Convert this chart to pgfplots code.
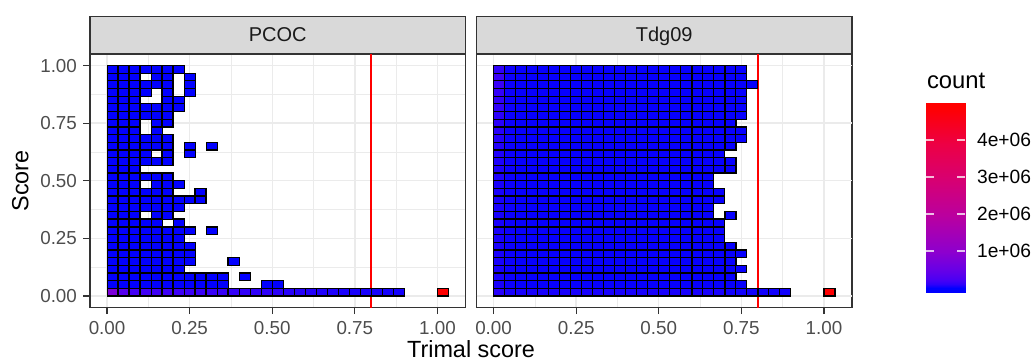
\documentclass[border=0pt]{standalone}
\usepackage{fontspec}
\setmainfont{Liberation Sans}
\usepackage{pgfplots}
\usepackage{pgfplotstable}
\pgfplotsset{compat=1.18}
\definecolor{gray20}{HTML}{333333}
\definecolor{gray30}{HTML}{4D4D4D}
\definecolor{gray92}{HTML}{EBEBEB}
\definecolor{gray85}{HTML}{D9D9D9}
\definecolor{gray10}{HTML}{1A1A1A}
\pgfdeclareplotmark{cell}{%
  \pgfpathrectanglecorners{\pgfpoint{-2.753pt}{-1.921pt}}{\pgfpoint{2.753pt}{1.921pt}}%
  \pgfusepathqfillstroke}
\pgfplotsset{
  colormap={ggbr}{rgb255(0pt)=(0,0,255) rgb255(2pt)=(47,0,250) rgb255(5pt)=(75,0,243) rgb255(10pt)=(104,0,230) rgb255(20pt)=(141,0,206) rgb255(40pt)=(186,0,159) rgb255(60pt)=(215,0,114) rgb255(80pt)=(237,0,68) rgb255(100pt)=(255,0,0)},
  panel/.style={
    scale only axis, width=187.75pt, height=126.75pt, anchor=north west,
    xmin=-0.05167, xmax=1.085, ymin=-0.05, ymax=1.05,
    xtick={0,0.25,0.5,0.75,1}, xticklabels={0.00,0.25,0.50,0.75,1.00},
    minor xtick={0.125,0.375,0.625,0.875}, minor ytick={0.125,0.375,0.625,0.875},
    grid=both,
    major grid style={gray92, line width=0.7pt},
    minor grid style={gray92, line width=0.35pt},
    tick align=outside, tick pos=left,
    major tick length=3.25pt, minor tick length=0pt,
    tick style={gray20, line width=0.6pt},
    axis line style={gray20, line width=0.75pt},
    tick label style={font=\fontsize{9.4}{11}\selectfont, text=gray30, inner sep=0pt},
    xticklabel style={yshift=-3.6pt},
    yticklabel style={xshift=-3.1pt},
    colormap name=ggbr, point meta min=0, point meta max=4880,
    every axis title/.style={at={(0.5,1)}, anchor=south, fill=gray85, draw=gray20, line width=0.75pt, minimum width=187.75pt, minimum height=18.5pt, inner sep=0pt, text=gray10, font=\fontsize{10}{12}\selectfont, text height=7.2pt, text depth=0pt},
  },
  cells/.style={scatter, only marks, mark=cell, point meta=explicit,
    scatter/use mapped color={draw=black, fill=mapped color, line width=0.6pt}},
}

\pgfplotstableread{
x y c
0.017 0.983 5
0.05 0.983 5
0.083 0.983 5
0.117 0.983 5
0.15 0.983 5
0.183 0.983 5
0.217 0.983 5
0.017 0.95 5
0.05 0.95 5
0.083 0.95 5
0.15 0.95 5
0.183 0.95 5
0.25 0.95 5
0.017 0.917 5
0.05 0.917 5
0.083 0.917 5
0.117 0.917 5
0.15 0.917 5
0.183 0.917 5
0.25 0.917 5
0.017 0.883 5
0.05 0.883 5
0.083 0.883 5
0.117 0.883 5
0.183 0.883 5
0.25 0.883 5
0.017 0.85 5
0.05 0.85 5
0.083 0.85 5
0.183 0.85 5
0.217 0.85 5
0.017 0.817 5
0.05 0.817 5
0.083 0.817 5
0.117 0.817 5
0.15 0.817 5
0.183 0.817 5
0.217 0.817 5
0.017 0.783 5
0.05 0.783 5
0.083 0.783 5
0.117 0.783 5
0.15 0.783 5
0.183 0.783 5
0.017 0.75 5
0.05 0.75 5
0.083 0.75 5
0.15 0.75 5
0.183 0.75 5
0.017 0.717 5
0.05 0.717 5
0.083 0.717 5
0.15 0.717 5
0.017 0.683 5
0.05 0.683 5
0.083 0.683 5
0.117 0.683 5
0.15 0.683 5
0.183 0.683 5
0.017 0.65 5
0.05 0.65 5
0.083 0.65 5
0.117 0.65 5
0.15 0.65 5
0.183 0.65 5
0.25 0.65 5
0.317 0.65 5
0.017 0.617 5
0.05 0.617 5
0.083 0.617 5
0.117 0.617 5
0.183 0.617 5
0.25 0.617 5
0.017 0.583 5
0.05 0.583 5
0.083 0.583 5
0.117 0.583 5
0.15 0.583 5
0.183 0.583 5
0.017 0.55 5
0.05 0.55 5
0.083 0.55 5
0.017 0.517 5
0.05 0.517 5
0.083 0.517 5
0.117 0.517 5
0.15 0.517 5
0.183 0.517 5
0.017 0.483 5
0.05 0.483 5
0.083 0.483 5
0.15 0.483 5
0.183 0.483 5
0.217 0.483 5
0.017 0.45 5
0.05 0.45 5
0.083 0.45 5
0.117 0.45 5
0.15 0.45 5
0.183 0.45 5
0.283 0.45 5
0.017 0.417 5
0.05 0.417 5
0.083 0.417 5
0.117 0.417 5
0.15 0.417 5
0.183 0.417 5
0.217 0.417 5
0.25 0.417 5
0.283 0.417 5
0.017 0.383 5
0.05 0.383 5
0.083 0.383 5
0.117 0.383 5
0.15 0.383 5
0.183 0.383 5
0.217 0.383 5
0.017 0.35 5
0.05 0.35 5
0.083 0.35 5
0.15 0.35 5
0.183 0.35 5
0.017 0.317 5
0.05 0.317 5
0.083 0.317 5
0.117 0.317 5
0.15 0.317 5
0.217 0.317 5
0.017 0.283 5
0.05 0.283 5
0.083 0.283 5
0.117 0.283 5
0.15 0.283 5
0.183 0.283 5
0.217 0.283 5
0.25 0.283 5
0.317 0.283 5
0.017 0.25 5
0.05 0.25 5
0.083 0.25 5
0.117 0.25 5
0.15 0.25 5
0.183 0.25 5
0.217 0.25 5
0.017 0.217 5
0.05 0.217 5
0.083 0.217 5
0.117 0.217 5
0.15 0.217 5
0.183 0.217 5
0.217 0.217 5
0.25 0.217 5
0.017 0.183 5
0.05 0.183 5
0.083 0.183 5
0.117 0.183 5
0.15 0.183 5
0.183 0.183 5
0.217 0.183 5
0.25 0.183 5
0.017 0.15 5
0.05 0.15 5
0.083 0.15 5
0.117 0.15 5
0.15 0.15 5
0.183 0.15 5
0.217 0.15 5
0.25 0.15 5
0.383 0.15 5
0.017 0.117 5
0.05 0.117 5
0.083 0.117 5
0.117 0.117 5
0.15 0.117 5
0.183 0.117 5
0.217 0.117 5
0.017 0.083 5
0.05 0.083 5
0.083 0.083 5
0.117 0.083 5
0.15 0.083 5
0.183 0.083 5
0.217 0.083 5
0.25 0.083 5
0.283 0.083 5
0.317 0.083 5
0.35 0.083 5
0.417 0.083 5
0.017 0.05 5
0.05 0.05 5
0.083 0.05 5
0.117 0.05 5
0.15 0.05 5
0.183 0.05 5
0.217 0.05 5
0.25 0.05 5
0.283 0.05 5
0.317 0.05 5
0.35 0.05 5
0.483 0.05 5
0.517 0.05 5
0.017 0.017 750
0.05 0.017 340
0.083 0.017 200
0.117 0.017 190
0.15 0.017 180
0.183 0.017 175
0.217 0.017 170
0.25 0.017 160
0.283 0.017 150
0.317 0.017 145
0.35 0.017 140
0.383 0.017 120
0.417 0.017 110
0.45 0.017 100
0.483 0.017 95
0.517 0.017 90
0.55 0.017 80
0.583 0.017 75
0.617 0.017 70
0.65 0.017 65
0.683 0.017 60
0.717 0.017 55
0.75 0.017 50
0.783 0.017 48
0.817 0.017 45
0.85 0.017 42
0.883 0.017 40
1.017 0.017 4880
}\pcoc

\pgfplotstableread{
x y c
0.017 0.983 100
0.05 0.983 25
0.083 0.983 15
0.117 0.983 15
0.15 0.983 15
0.183 0.983 15
0.217 0.983 15
0.25 0.983 15
0.283 0.983 15
0.317 0.983 15
0.35 0.983 15
0.383 0.983 15
0.417 0.983 15
0.45 0.983 15
0.483 0.983 15
0.517 0.983 15
0.55 0.983 15
0.583 0.983 15
0.617 0.983 15
0.65 0.983 15
0.683 0.983 15
0.717 0.983 15
0.75 0.983 15
0.017 0.95 150
0.05 0.95 25
0.083 0.95 15
0.117 0.95 15
0.15 0.95 15
0.183 0.95 15
0.217 0.95 15
0.25 0.95 15
0.283 0.95 15
0.317 0.95 15
0.35 0.95 15
0.383 0.95 15
0.417 0.95 15
0.45 0.95 15
0.483 0.95 15
0.517 0.95 15
0.55 0.95 15
0.583 0.95 15
0.617 0.95 15
0.65 0.95 15
0.683 0.95 15
0.717 0.95 15
0.75 0.95 15
0.017 0.917 150
0.05 0.917 25
0.083 0.917 15
0.117 0.917 15
0.15 0.917 15
0.183 0.917 15
0.217 0.917 15
0.25 0.917 15
0.283 0.917 15
0.317 0.917 15
0.35 0.917 15
0.383 0.917 15
0.417 0.917 15
0.45 0.917 15
0.483 0.917 15
0.517 0.917 15
0.55 0.917 15
0.583 0.917 15
0.617 0.917 15
0.65 0.917 15
0.683 0.917 15
0.717 0.917 15
0.75 0.917 15
0.783 0.917 15
0.017 0.883 120
0.05 0.883 25
0.083 0.883 15
0.117 0.883 15
0.15 0.883 15
0.183 0.883 15
0.217 0.883 15
0.25 0.883 15
0.283 0.883 15
0.317 0.883 15
0.35 0.883 15
0.383 0.883 15
0.417 0.883 15
0.45 0.883 15
0.483 0.883 15
0.517 0.883 15
0.55 0.883 15
0.583 0.883 15
0.617 0.883 15
0.65 0.883 15
0.683 0.883 15
0.717 0.883 15
0.75 0.883 15
0.017 0.85 110
0.05 0.85 25
0.083 0.85 15
0.117 0.85 15
0.15 0.85 15
0.183 0.85 15
0.217 0.85 15
0.25 0.85 15
0.283 0.85 15
0.317 0.85 15
0.35 0.85 15
0.383 0.85 15
0.417 0.85 15
0.45 0.85 15
0.483 0.85 15
0.517 0.85 15
0.55 0.85 15
0.583 0.85 15
0.617 0.85 15
0.65 0.85 15
0.683 0.85 15
0.717 0.85 15
0.75 0.85 15
0.017 0.817 100
0.05 0.817 25
0.083 0.817 15
0.117 0.817 15
0.15 0.817 15
0.183 0.817 15
0.217 0.817 15
0.25 0.817 15
0.283 0.817 15
0.317 0.817 15
0.35 0.817 15
0.383 0.817 15
0.417 0.817 15
0.45 0.817 15
0.483 0.817 15
0.517 0.817 15
0.55 0.817 15
0.583 0.817 15
0.617 0.817 15
0.65 0.817 15
0.683 0.817 15
0.717 0.817 15
0.75 0.817 15
0.017 0.783 90
0.05 0.783 25
0.083 0.783 15
0.117 0.783 15
0.15 0.783 15
0.183 0.783 15
0.217 0.783 15
0.25 0.783 15
0.283 0.783 15
0.317 0.783 15
0.35 0.783 15
0.383 0.783 15
0.417 0.783 15
0.45 0.783 15
0.483 0.783 15
0.517 0.783 15
0.55 0.783 15
0.583 0.783 15
0.617 0.783 15
0.65 0.783 15
0.683 0.783 15
0.717 0.783 15
0.75 0.783 15
0.017 0.75 85
0.05 0.75 25
0.083 0.75 15
0.117 0.75 15
0.15 0.75 15
0.183 0.75 15
0.217 0.75 15
0.25 0.75 15
0.283 0.75 15
0.317 0.75 15
0.35 0.75 15
0.383 0.75 15
0.417 0.75 15
0.45 0.75 15
0.483 0.75 15
0.517 0.75 15
0.55 0.75 15
0.583 0.75 15
0.617 0.75 15
0.65 0.75 15
0.683 0.75 15
0.717 0.75 15
0.017 0.717 80
0.05 0.717 25
0.083 0.717 15
0.117 0.717 15
0.15 0.717 15
0.183 0.717 15
0.217 0.717 15
0.25 0.717 15
0.283 0.717 15
0.317 0.717 15
0.35 0.717 15
0.383 0.717 15
0.417 0.717 15
0.45 0.717 15
0.483 0.717 15
0.517 0.717 15
0.55 0.717 15
0.583 0.717 15
0.617 0.717 15
0.65 0.717 15
0.683 0.717 15
0.717 0.717 15
0.75 0.717 15
0.017 0.683 75
0.05 0.683 25
0.083 0.683 15
0.117 0.683 15
0.15 0.683 15
0.183 0.683 15
0.217 0.683 15
0.25 0.683 15
0.283 0.683 15
0.317 0.683 15
0.35 0.683 15
0.383 0.683 15
0.417 0.683 15
0.45 0.683 15
0.483 0.683 15
0.517 0.683 15
0.55 0.683 15
0.583 0.683 15
0.617 0.683 15
0.65 0.683 15
0.683 0.683 15
0.717 0.683 15
0.75 0.683 15
0.017 0.65 70
0.05 0.65 25
0.083 0.65 15
0.117 0.65 15
0.15 0.65 15
0.183 0.65 15
0.217 0.65 15
0.25 0.65 15
0.283 0.65 15
0.317 0.65 15
0.35 0.65 15
0.383 0.65 15
0.417 0.65 15
0.45 0.65 15
0.483 0.65 15
0.517 0.65 15
0.55 0.65 15
0.583 0.65 15
0.617 0.65 15
0.65 0.65 15
0.683 0.65 15
0.717 0.65 15
0.017 0.617 65
0.05 0.617 25
0.083 0.617 15
0.117 0.617 15
0.15 0.617 15
0.183 0.617 15
0.217 0.617 15
0.25 0.617 15
0.283 0.617 15
0.317 0.617 15
0.35 0.617 15
0.383 0.617 15
0.417 0.617 15
0.45 0.617 15
0.483 0.617 15
0.517 0.617 15
0.55 0.617 15
0.583 0.617 15
0.617 0.617 15
0.65 0.617 15
0.683 0.617 15
0.017 0.583 60
0.05 0.583 25
0.083 0.583 15
0.117 0.583 15
0.15 0.583 15
0.183 0.583 15
0.217 0.583 15
0.25 0.583 15
0.283 0.583 15
0.317 0.583 15
0.35 0.583 15
0.383 0.583 15
0.417 0.583 15
0.45 0.583 15
0.483 0.583 15
0.517 0.583 15
0.55 0.583 15
0.583 0.583 15
0.617 0.583 15
0.65 0.583 15
0.683 0.583 15
0.717 0.583 15
0.017 0.55 60
0.05 0.55 25
0.083 0.55 15
0.117 0.55 15
0.15 0.55 15
0.183 0.55 15
0.217 0.55 15
0.25 0.55 15
0.283 0.55 15
0.317 0.55 15
0.35 0.55 15
0.383 0.55 15
0.417 0.55 15
0.45 0.55 15
0.483 0.55 15
0.517 0.55 15
0.55 0.55 15
0.583 0.55 15
0.617 0.55 15
0.65 0.55 15
0.683 0.55 15
0.717 0.55 15
0.017 0.517 60
0.05 0.517 25
0.083 0.517 15
0.117 0.517 15
0.15 0.517 15
0.183 0.517 15
0.217 0.517 15
0.25 0.517 15
0.283 0.517 15
0.317 0.517 15
0.35 0.517 15
0.383 0.517 15
0.417 0.517 15
0.45 0.517 15
0.483 0.517 15
0.517 0.517 15
0.55 0.517 15
0.583 0.517 15
0.617 0.517 15
0.65 0.517 15
0.017 0.483 50
0.05 0.483 25
0.083 0.483 15
0.117 0.483 15
0.15 0.483 15
0.183 0.483 15
0.217 0.483 15
0.25 0.483 15
0.283 0.483 15
0.317 0.483 15
0.35 0.483 15
0.383 0.483 15
0.417 0.483 15
0.45 0.483 15
0.483 0.483 15
0.517 0.483 15
0.55 0.483 15
0.583 0.483 15
0.617 0.483 15
0.65 0.483 15
0.017 0.45 50
0.05 0.45 25
0.083 0.45 15
0.117 0.45 15
0.15 0.45 15
0.183 0.45 15
0.217 0.45 15
0.25 0.45 15
0.283 0.45 15
0.317 0.45 15
0.35 0.45 15
0.383 0.45 15
0.417 0.45 15
0.45 0.45 15
0.483 0.45 15
0.517 0.45 15
0.55 0.45 15
0.583 0.45 15
0.617 0.45 15
0.65 0.45 15
0.683 0.45 15
0.017 0.417 50
0.05 0.417 25
0.083 0.417 15
0.117 0.417 15
0.15 0.417 15
0.183 0.417 15
0.217 0.417 15
0.25 0.417 15
0.283 0.417 15
0.317 0.417 15
0.35 0.417 15
0.383 0.417 15
0.417 0.417 15
0.45 0.417 15
0.483 0.417 15
0.517 0.417 15
0.55 0.417 15
0.583 0.417 15
0.617 0.417 15
0.65 0.417 15
0.683 0.417 15
0.017 0.383 50
0.05 0.383 25
0.083 0.383 15
0.117 0.383 15
0.15 0.383 15
0.183 0.383 15
0.217 0.383 15
0.25 0.383 15
0.283 0.383 15
0.317 0.383 15
0.35 0.383 15
0.383 0.383 15
0.417 0.383 15
0.45 0.383 15
0.483 0.383 15
0.517 0.383 15
0.55 0.383 15
0.583 0.383 15
0.617 0.383 15
0.65 0.383 15
0.017 0.35 50
0.05 0.35 25
0.083 0.35 15
0.117 0.35 15
0.15 0.35 15
0.183 0.35 15
0.217 0.35 15
0.25 0.35 15
0.283 0.35 15
0.317 0.35 15
0.35 0.35 15
0.383 0.35 15
0.417 0.35 15
0.45 0.35 15
0.483 0.35 15
0.517 0.35 15
0.55 0.35 15
0.583 0.35 15
0.617 0.35 15
0.65 0.35 15
0.717 0.35 15
0.017 0.317 50
0.05 0.317 25
0.083 0.317 15
0.117 0.317 15
0.15 0.317 15
0.183 0.317 15
0.217 0.317 15
0.25 0.317 15
0.283 0.317 15
0.317 0.317 15
0.35 0.317 15
0.383 0.317 15
0.417 0.317 15
0.45 0.317 15
0.483 0.317 15
0.517 0.317 15
0.55 0.317 15
0.583 0.317 15
0.617 0.317 15
0.65 0.317 15
0.683 0.317 15
0.017 0.283 50
0.05 0.283 25
0.083 0.283 15
0.117 0.283 15
0.15 0.283 15
0.183 0.283 15
0.217 0.283 15
0.25 0.283 15
0.283 0.283 15
0.317 0.283 15
0.35 0.283 15
0.383 0.283 15
0.417 0.283 15
0.45 0.283 15
0.483 0.283 15
0.517 0.283 15
0.55 0.283 15
0.583 0.283 15
0.617 0.283 15
0.65 0.283 15
0.683 0.283 15
0.017 0.25 50
0.05 0.25 25
0.083 0.25 15
0.117 0.25 15
0.15 0.25 15
0.183 0.25 15
0.217 0.25 15
0.25 0.25 15
0.283 0.25 15
0.317 0.25 15
0.35 0.25 15
0.383 0.25 15
0.417 0.25 15
0.45 0.25 15
0.483 0.25 15
0.517 0.25 15
0.55 0.25 15
0.583 0.25 15
0.617 0.25 15
0.65 0.25 15
0.683 0.25 15
0.017 0.217 50
0.05 0.217 25
0.083 0.217 15
0.117 0.217 15
0.15 0.217 15
0.183 0.217 15
0.217 0.217 15
0.25 0.217 15
0.283 0.217 15
0.317 0.217 15
0.35 0.217 15
0.383 0.217 15
0.417 0.217 15
0.45 0.217 15
0.483 0.217 15
0.517 0.217 15
0.55 0.217 15
0.583 0.217 15
0.617 0.217 15
0.65 0.217 15
0.683 0.217 15
0.717 0.217 15
0.017 0.183 50
0.05 0.183 25
0.083 0.183 15
0.117 0.183 15
0.15 0.183 15
0.183 0.183 15
0.217 0.183 15
0.25 0.183 15
0.283 0.183 15
0.317 0.183 15
0.35 0.183 15
0.383 0.183 15
0.417 0.183 15
0.45 0.183 15
0.483 0.183 15
0.517 0.183 15
0.55 0.183 15
0.583 0.183 15
0.617 0.183 15
0.65 0.183 15
0.683 0.183 15
0.717 0.183 15
0.75 0.183 15
0.017 0.15 50
0.05 0.15 25
0.083 0.15 15
0.117 0.15 15
0.15 0.15 15
0.183 0.15 15
0.217 0.15 15
0.25 0.15 15
0.283 0.15 15
0.317 0.15 15
0.35 0.15 15
0.383 0.15 15
0.417 0.15 15
0.45 0.15 15
0.483 0.15 15
0.517 0.15 15
0.55 0.15 15
0.583 0.15 15
0.617 0.15 15
0.65 0.15 15
0.683 0.15 15
0.717 0.15 15
0.017 0.117 50
0.05 0.117 25
0.083 0.117 15
0.117 0.117 15
0.15 0.117 15
0.183 0.117 15
0.217 0.117 15
0.25 0.117 15
0.283 0.117 15
0.317 0.117 15
0.35 0.117 15
0.383 0.117 15
0.417 0.117 15
0.45 0.117 15
0.483 0.117 15
0.517 0.117 15
0.55 0.117 15
0.583 0.117 15
0.617 0.117 15
0.65 0.117 15
0.683 0.117 15
0.717 0.117 15
0.75 0.117 15
0.017 0.083 50
0.05 0.083 25
0.083 0.083 15
0.117 0.083 15
0.15 0.083 15
0.183 0.083 15
0.217 0.083 15
0.25 0.083 15
0.283 0.083 15
0.317 0.083 15
0.35 0.083 15
0.383 0.083 15
0.417 0.083 15
0.45 0.083 15
0.483 0.083 15
0.517 0.083 15
0.55 0.083 15
0.583 0.083 15
0.617 0.083 15
0.65 0.083 15
0.683 0.083 15
0.717 0.083 15
0.017 0.05 50
0.05 0.05 25
0.083 0.05 15
0.117 0.05 15
0.15 0.05 15
0.183 0.05 15
0.217 0.05 15
0.25 0.05 15
0.283 0.05 15
0.317 0.05 15
0.35 0.05 15
0.383 0.05 15
0.417 0.05 15
0.45 0.05 15
0.483 0.05 15
0.517 0.05 15
0.55 0.05 15
0.583 0.05 15
0.617 0.05 15
0.65 0.05 15
0.683 0.05 15
0.717 0.05 15
0.75 0.05 15
0.017 0.017 80
0.05 0.017 50
0.083 0.017 50
0.117 0.017 50
0.15 0.017 50
0.183 0.017 50
0.217 0.017 50
0.25 0.017 50
0.283 0.017 50
0.317 0.017 50
0.35 0.017 50
0.383 0.017 50
0.417 0.017 50
0.45 0.017 50
0.483 0.017 50
0.517 0.017 50
0.55 0.017 50
0.583 0.017 50
0.617 0.017 50
0.65 0.017 50
0.683 0.017 50
0.717 0.017 35
0.75 0.017 35
0.783 0.017 35
0.817 0.017 35
0.85 0.017 35
0.883 0.017 35
1.017 0.017 4850
}\tdg

\begin{document}
\begin{tikzpicture}
\path[use as bounding box] (0,0) rectangle (516pt,-180.5pt);
\begin{axis}[panel, at={(45pt,-27pt)}, title=PCOC,
  ytick={0,0.25,0.5,0.75,1}, yticklabels={0.00,0.25,0.50,0.75,1.00}]
\addplot[cells] table[meta=c]{\pcoc};
\addplot[red, line width=1.05pt] coordinates {(0.8,-0.06) (0.8,1.06)};
\end{axis}
\begin{axis}[panel, at={(238.25pt,-27pt)}, title=Tdg09,
  ytick=\empty, extra y ticks={0,0.25,0.5,0.75,1}, extra y tick labels={},
  extra y tick style={major tick length=0pt, grid=major}]
\addplot[cells] table[meta=c]{\tdg};
\addplot[red, line width=1.05pt] coordinates {(0.8,-0.06) (0.8,1.06)};
\end{axis}
\node[font=\fontsize{11.7}{13}\selectfont, anchor=base] at (235.5pt,-178.5pt) {Trimal score};
\node[font=\fontsize{11.7}{13}\selectfont, rotate=90, anchor=base] at (14.15pt,-90.4pt) {Score};
\node[font=\fontsize{11.9}{14}\selectfont, anchor=base west, inner sep=0pt] at (463.3pt,-44pt) {count};
\begin{axis}[at={(463pt,-51.35pt)}, anchor=north west, scale only axis, width=19.5pt, height=95pt,
  xmin=0, xmax=1, ymin=-128.4, ymax=5008.4, axis line style={draw=none},
  xtick=\empty, ytick={1000,2000,3000,4000}, yticklabels={1e+06,2e+06,3e+06,4e+06},
  ytick pos=both, yticklabel pos=right, tick align=inside, major tick length=3.85pt,
  tick style={white, opacity=0.75, line width=0.55pt},
  yticklabel style={font=\fontsize{9.6}{11}\selectfont, inner sep=0pt, anchor=west, xshift=5.85pt},
  colormap name=ggbr, point meta min=0, point meta max=4880, axis on top]
\addplot[surf, shader=interp, mesh/cols=2, point meta=explicit] table[meta=c]{
x y c
0 -128.4 0
1 -128.4 0
0 0 0
1 0 0
0 50 50
1 50 50
0 100 100
1 100 100
0 250 250
1 250 250
0 500 500
1 500 500
0 1000 1000
1 1000 1000
0 2000 2000
1 2000 2000
0 3000 3000
1 3000 3000
0 4000 4000
1 4000 4000
0 4880 4880
1 4880 4880
0 5008.4 4880
1 5008.4 4880
};
\end{axis}
\end{tikzpicture}
\end{document}
